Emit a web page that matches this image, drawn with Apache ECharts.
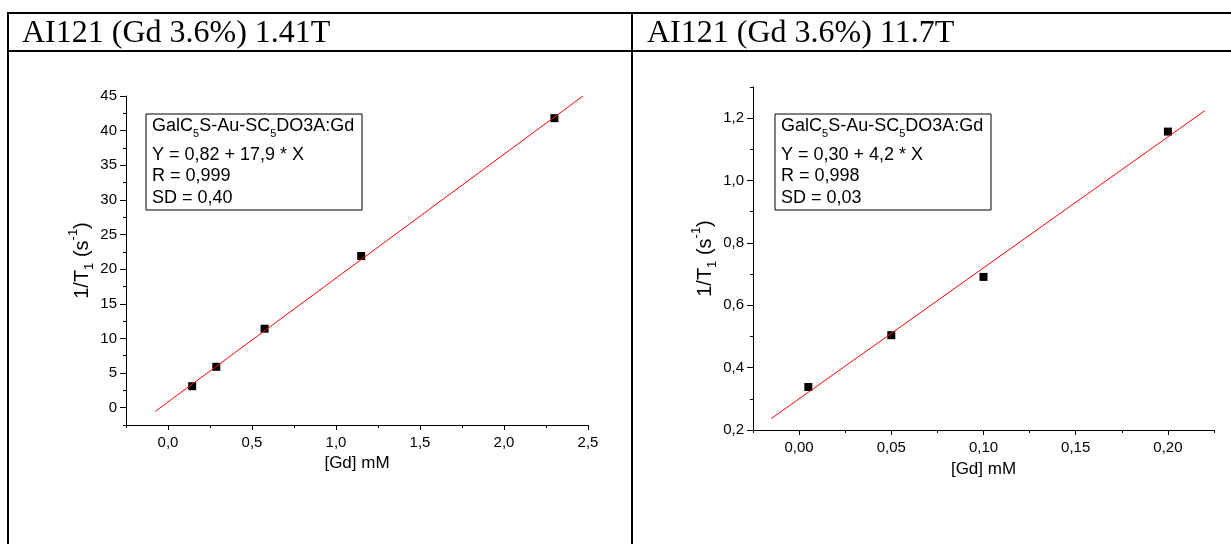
<!DOCTYPE html>
<html>
<head>
<meta charset="utf-8">
<script src="https://cdn.jsdelivr.net/npm/echarts@6/dist/echarts.min.js"></script>
<style>
  html, body { margin: 0; padding: 0; background: #fff; }
  #chart { width: 1231px; height: 544px; }
</style>
</head>
<body>
<div id="chart"></div>
<script>
// 1.41T panel: [Gd] in mM vs 1/T1 in s^-1
const lowGd = [0.144, 0.2875, 0.575, 1.15, 2.3];
const lowR1 = [3.1, 5.9, 11.4, 21.9, 41.8];
const lowFitGd = [-0.075, 2.47];
const lowFitR1 = [-0.52, 45.0];
const lowXTicks = [0, 0.5, 1, 1.5, 2, 2.5];
const lowYTicks = [0, 5, 10, 15, 20, 25, 30, 35, 40, 45];

// 11.7T panel
const highGd = [0.005, 0.05, 0.1, 0.2];
const highR1 = [0.338, 0.504, 0.691, 1.157];
const highFitGd = [-0.015, 0.22];
const highFitR1 = [0.237, 1.224];
const highXTicks = [0, 0.05, 0.1, 0.15, 0.2];
const highYTicks = [0.2, 0.4, 0.6, 0.8, 1.0, 1.2];

const panelTitles = ['AI121 (Gd 3.6%) 1.41T', 'AI121 (Gd 3.6%) 11.7T'];
const fitText = [
  ['Y = 0,82 + 17,9 * X', 'R = 0,999', 'SD = 0,40'],
  ['Y = 0,30 + 4,2 * X', 'R = 0,998', 'SD = 0,03'],
];

const SANS = 'Liberation Sans, Arial, sans-serif';
const SERIF = 'Liberation Serif, Times New Roman, serif';

function comma(v, d) {
  return v.toFixed(d).replace('.', ',');
}
function pairs(xs, ys) {
  return xs.map((x, i) => [x, ys[i]]);
}

// main axis: line, labels, long ticks at labelled values
function xAxisFor(grid, min, max, step, ticks, digits, gap) {
  return {
    type: 'value', gridIndex: grid, min: min, max: max, interval: step, position: 'bottom',
    name: '[Gd] mM', nameLocation: 'middle', nameGap: gap,
    nameTextStyle: { fontFamily: SANS, fontSize: 17, color: '#000' },
    axisLine: { show: true, onZero: false, lineStyle: { color: '#000', width: 1 } },
    axisTick: { show: true, length: 5, customValues: ticks, lineStyle: { color: '#000' } },
    axisLabel: {
      fontFamily: SANS, fontSize: 15, color: '#000', margin: 10,
      customValues: ticks, formatter: v => comma(v, digits),
    },
    splitLine: { show: false },
  };
}

// overlay axis: only the short minor ticks
function minorX(grid, min, max, step) {
  return {
    type: 'value', gridIndex: grid, min: min, max: max, interval: step, position: 'bottom',
    axisLine: { show: false, onZero: false },
    axisTick: { show: true, length: 3, lineStyle: { color: '#000' } },
    axisLabel: { show: false },
    splitLine: { show: false },
  };
}

const nameRich = {
  n: { fontFamily: SANS, fontSize: 20, color: '#000', verticalAlign: 'top', lineHeight: 22, padding: [5, 0, 0, 0] },
  s: { fontFamily: SANS, fontSize: 13, color: '#000', verticalAlign: 'top', lineHeight: 15, padding: [16, 0, 0, 0] },
  p: { fontFamily: SANS, fontSize: 13, color: '#000', verticalAlign: 'top', lineHeight: 15, padding: [0, 0, 0, 0] },
};

function yAxisFor(grid, min, max, step, ticks, digits) {
  return {
    type: 'value', gridIndex: grid, min: min, max: max, interval: step, position: 'left',
    name: '{n|1/T}{s|1}{n| (s}{p|-1}{n|)}', nameLocation: 'middle', nameRotate: 90, nameGap: 35,
    nameTextStyle: { rich: nameRich },
    axisLine: { show: true, onZero: false, lineStyle: { color: '#000', width: 1 } },
    axisTick: { show: true, length: 6, customValues: ticks, lineStyle: { color: '#000' } },
    axisLabel: {
      fontFamily: SANS, fontSize: 15, color: '#000', margin: 9,
      customValues: ticks, formatter: v => comma(v, digits),
    },
    splitLine: { show: false },
  };
}

function minorY(grid, min, max, step) {
  return {
    type: 'value', gridIndex: grid, min: min, max: max, interval: step, position: 'left',
    axisLine: { show: false, onZero: false },
    axisTick: { show: true, length: 3, lineStyle: { color: '#000' } },
    axisLabel: { show: false },
    splitLine: { show: false },
  };
}

const legendRich = {
  n: { fontFamily: SANS, fontSize: 18, color: '#000', verticalAlign: 'top', lineHeight: 21 },
  s: { fontFamily: SANS, fontSize: 11, color: '#000', verticalAlign: 'top', lineHeight: 14, padding: [11, 0, 0, 0] },
};

function legendBox(bx, by, lines) {
  const els = [
    { type: 'rect', shape: { x: bx, y: by, width: 216, height: 96 },
      style: { fill: '#fff', stroke: '#000', lineWidth: 1 }, z: 10 },
    { type: 'text', x: bx + 6, y: by + 3, z: 11,
      style: { text: '{n|GalC}{s|5}{n|S-Au-SC}{s|5}{n|DO3A:Gd}', rich: legendRich, verticalAlign: 'top' } },
  ];
  lines.forEach((t, i) => {
    els.push({ type: 'text', x: bx + 6, y: by + 41 + i * 21.5, z: 11,
      style: { text: t, fontFamily: SANS, fontSize: 18, fill: '#000', verticalAlign: 'middle' } });
  });
  return els;
}

function rule(x1, y1, x2, y2) {
  return { type: 'line', shape: { x1: x1, y1: y1, x2: x2, y2: y2 }, style: { stroke: '#000', lineWidth: 2 }, z: 20 };
}

const chart = echarts.init(document.getElementById('chart'));

const option = {
  backgroundColor: '#fff',
  animation: false,
  grid: [
    { left: 126, top: 96, width: 462, height: 329 },
    { left: 753, top: 87, width: 461, height: 343 },
  ],
  xAxis: [
    xAxisFor(0, -0.25, 2.5, 0.25, lowXTicks, 1, 30),
    xAxisFor(1, -0.025, 0.225, 0.025, highXTicks, 2, 31),
    minorX(0, -0.25, 2.5, 0.25),
    minorX(1, -0.025, 0.225, 0.025),
  ],
  yAxis: [
    yAxisFor(0, -2.5, 45, 2.5, lowYTicks, 0),
    yAxisFor(1, 0.2, 1.3, 0.1, highYTicks, 1),
    minorY(0, -2.5, 45, 2.5),
    minorY(1, 0.2, 1.3, 0.1),
  ],
  series: [
    {
      type: 'scatter', xAxisIndex: 0, yAxisIndex: 0, data: pairs(lowGd, lowR1),
      symbol: 'rect', symbolSize: 8, itemStyle: { color: '#000', opacity: 1 }, z: 2,
    },
    {
      type: 'line', xAxisIndex: 0, yAxisIndex: 0, data: pairs(lowFitGd, lowFitR1),
      showSymbol: false, lineStyle: { color: '#ff0000', width: 1 }, z: 3,
    },
    {
      type: 'scatter', xAxisIndex: 1, yAxisIndex: 1, data: pairs(highGd, highR1),
      symbol: 'rect', symbolSize: 8, itemStyle: { color: '#000', opacity: 1 }, z: 2,
    },
    {
      type: 'line', xAxisIndex: 1, yAxisIndex: 1, data: pairs(highFitGd, highFitR1),
      showSymbol: false, lineStyle: { color: '#ff0000', width: 1 }, z: 3,
    },
  ],
  graphic: [
    rule(8, 13, 1231, 13),
    rule(8, 51, 1231, 51),
    rule(8, 12, 8, 544),
    rule(632, 12, 632, 544),
    { type: 'text', x: 22, y: 34, z: 20,
      style: { text: panelTitles[0], fontFamily: SERIF, fontSize: 32, fill: '#000', verticalAlign: 'middle' } },
    { type: 'text', x: 647, y: 34, z: 20,
      style: { text: panelTitles[1], fontFamily: SERIF, fontSize: 32, fill: '#000', verticalAlign: 'middle' } },
    ...legendBox(146, 114, fitText[0]),
    ...legendBox(775, 114, fitText[1]),
  ],
};

chart.setOption(option);
</script>
</body>
</html>
